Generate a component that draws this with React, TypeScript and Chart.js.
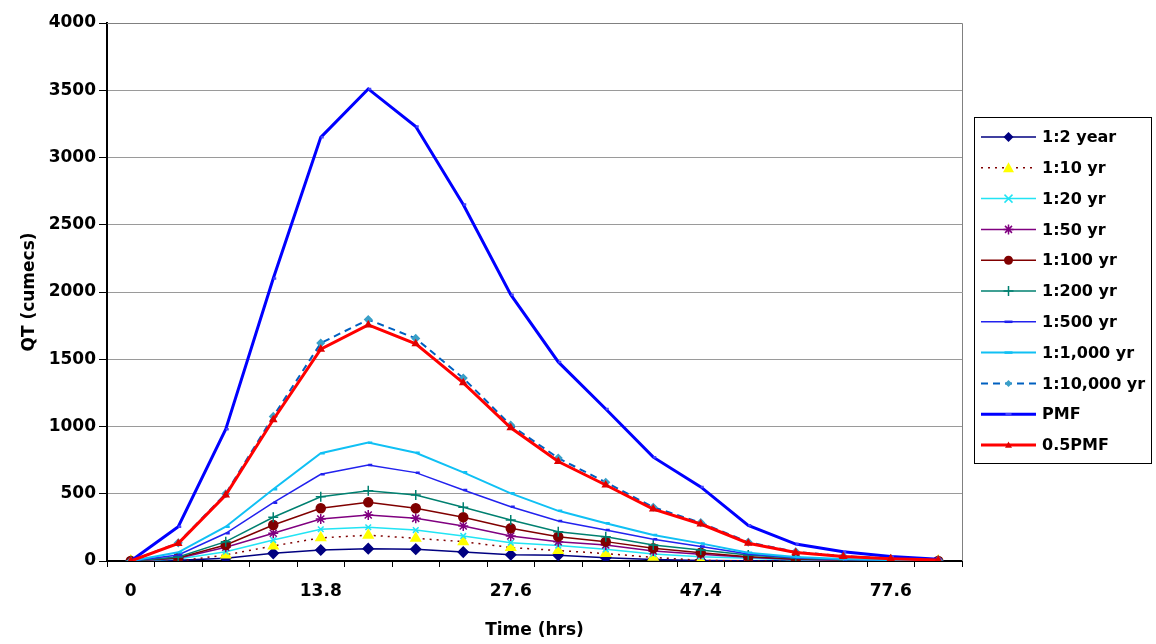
import React, { useEffect, useRef } from "react";
import { Chart, registerables } from "chart.js";

Chart.register(...registerables);

// Category axis (hours); only every 4th category carries a printed label
const categories = ["0", "", "", "", "13.8", "", "", "", "27.6", "", "", "", "47.4", "", "", "", "77.6", ""];

// Y axis
const yMin = 0;
const yMax = 4000;
const yStep = 500;

// Series values (cumecs)
const q2 = [0, 5, 20, 57, 82, 92, 88, 66, 46, 42, 25, 12, 4, 1, 0, 0, 0, 0];
const q10 = [0, 0, 45, 112, 172, 192, 169, 144, 100, 78, 55, 27, 5, 0, 0, 0, 0, 0];
const q20 = [0, 15, 69, 156, 236, 251, 230, 186, 136, 115, 87, 52, 32, 20, 8, 4, 2, 0];
const q50 = [0, 20, 102, 206, 312, 342, 317, 260, 186, 144, 119, 74, 50, 27, 12, 6, 3, 0];
const q100 = [0, 25, 119, 268, 392, 436, 392, 325, 243, 181, 144, 94, 62, 32, 15, 8, 4, 0];
const q200 = [0, 30, 144, 325, 478, 523, 491, 399, 305, 218, 181, 119, 82, 45, 20, 10, 5, 0];
const q500 = [0, 45, 206, 434, 645, 714, 657, 528, 404, 298, 230, 161, 107, 52, 25, 12, 6, 0];
const q1000 = [0, 65, 255, 533, 801, 880, 805, 659, 503, 373, 280, 193, 131, 62, 30, 15, 7, 0];
const q10000 = [0, 135, 500, 1075, 1620, 1795, 1655, 1360, 1010, 765, 585, 400, 285, 140, 68, 36, 18, 8];
const pmf = [0, 255, 980, 2100, 3150, 3510, 3230, 2650, 1980, 1480, 1130, 772, 551, 265, 126, 68, 33, 13];
const halfPmf = [0, 131, 490, 1050, 1575, 1755, 1615, 1325, 990, 740, 565, 386, 275, 132, 63, 34, 17, 7];

const seriesLabels = ["1:2 year", "1:10 yr", "1:20 yr", "1:50 yr", "1:100 yr", "1:200 yr", "1:500 yr", "1:1,000 yr", "1:10,000 yr", "PMF", "0.5PMF"];
const seriesData = [q2, q10, q20, q50, q100, q200, q500, q1000, q10000, pmf, halfPmf];

type Style = { color: string; width: number; dash: number[]; marker: string; mcolor: string; r: number };
const styles: Style[] = [
  { color: "#000080", width: 1.5, dash: [], marker: "rectRot", mcolor: "#000080", r: 5 },
  { color: "#800000", width: 1.5, dash: [2, 5], marker: "triangle", mcolor: "#FFFF00", r: 5.5 },
  { color: "#22E4F4", width: 1.5, dash: [], marker: "crossRot", mcolor: "#22E4F4", r: 4 },
  { color: "#800080", width: 1.5, dash: [], marker: "star", mcolor: "#800080", r: 5 },
  { color: "#800000", width: 1.5, dash: [], marker: "circle", mcolor: "#800000", r: 4.5 },
  { color: "#008070", width: 1.5, dash: [], marker: "cross", mcolor: "#008070", r: 5 },
  { color: "#2222EE", width: 1.5, dash: [], marker: "dash", mcolor: "#2222EE", r: 4 },
  { color: "#10C0F4", width: 2, dash: [], marker: "dash", mcolor: "#10C0F4", r: 4 },
  { color: "#0060C0", width: 2, dash: [7, 5], marker: "rectRot", mcolor: "#3AA0C8", r: 3.5 },
  { color: "#0000FF", width: 3, dash: [], marker: "dash", mcolor: "#4444FF", r: 3 },
  { color: "#FF0000", width: 3, dash: [], marker: "triangle", mcolor: "#E00000", r: 3.5 },
];

const FONT = "'DejaVu Sans', 'Liberation Sans', sans-serif";
const FSIZE = 17;
const LEGEND_FSIZE = 16;

function drawMarker(ctx: CanvasRenderingContext2D, style: string, x: number, y: number, r: number, color: string) {
  ctx.save();
  ctx.setLineDash([]);
  ctx.fillStyle = color;
  ctx.strokeStyle = color;
  ctx.lineWidth = 1.5;
  ctx.beginPath();
  switch (style) {
    case "rectRot":
      ctx.moveTo(x, y - r);
      ctx.lineTo(x + r, y);
      ctx.lineTo(x, y + r);
      ctx.lineTo(x - r, y);
      ctx.closePath();
      ctx.fill();
      break;
    case "triangle":
      ctx.moveTo(x, y - r);
      ctx.lineTo(x + r, y + r * 0.8);
      ctx.lineTo(x - r, y + r * 0.8);
      ctx.closePath();
      ctx.fill();
      break;
    case "circle":
      ctx.arc(x, y, r, 0, Math.PI * 2);
      ctx.fill();
      break;
    case "star":
      ctx.moveTo(x - r, y);
      ctx.lineTo(x + r, y);
      ctx.moveTo(x, y - r);
      ctx.lineTo(x, y + r);
      ctx.moveTo(x - r * 0.7, y - r * 0.7);
      ctx.lineTo(x + r * 0.7, y + r * 0.7);
      ctx.moveTo(x - r * 0.7, y + r * 0.7);
      ctx.lineTo(x + r * 0.7, y - r * 0.7);
      ctx.stroke();
      break;
    case "crossRot":
      ctx.moveTo(x - r, y - r);
      ctx.lineTo(x + r, y + r);
      ctx.moveTo(x - r, y + r);
      ctx.lineTo(x + r, y - r);
      ctx.stroke();
      break;
    case "cross":
      ctx.moveTo(x - r, y);
      ctx.lineTo(x + r, y);
      ctx.moveTo(x, y - r);
      ctx.lineTo(x, y + r);
      ctx.stroke();
      break;
    case "dash":
      ctx.lineWidth = 2.5;
      ctx.moveTo(x - r, y);
      ctx.lineTo(x + r, y);
      ctx.stroke();
      break;
  }
  ctx.restore();
}

const plotBorderPlugin = {
  id: "plotBorder",
  beforeDatasetsDraw(chart: any) {
    const { ctx, chartArea } = chart;
    ctx.save();
    ctx.strokeStyle = "#808080";
    ctx.lineWidth = 1;
    ctx.beginPath();
    ctx.moveTo(chartArea.left, chartArea.top + 0.5);
    ctx.lineTo(chartArea.right + 0.5, chartArea.top + 0.5);
    ctx.lineTo(chartArea.right + 0.5, chartArea.bottom);
    ctx.stroke();
    ctx.restore();
  },
};

const boxLegendPlugin = {
  id: "boxLegend",
  afterDraw(chart: any) {
    const { ctx, chartArea } = chart;
    const left = Math.round(chartArea.right + 12);
    const top = 117;
    const w = 177;
    const h = 346;
    ctx.save();
    ctx.strokeStyle = "#000";
    ctx.lineWidth = 1;
    ctx.setLineDash([]);
    ctx.strokeRect(left + 0.5, top + 0.5, w, h);
    const rowStep = 30.8;
    seriesLabels.forEach((label, i) => {
      const st = styles[i];
      const y = top + 20 + i * rowStep;
      const x0 = left + 7;
      const x1 = left + 62;
      ctx.save();
      ctx.strokeStyle = st.color;
      ctx.lineWidth = st.width;
      ctx.setLineDash(st.dash);
      ctx.beginPath();
      ctx.moveTo(x0, y);
      ctx.lineTo(x1, y);
      ctx.stroke();
      ctx.restore();
      drawMarker(ctx, st.marker, (x0 + x1) / 2, y, st.r, st.mcolor);
      ctx.fillStyle = "#000";
      ctx.font = `bold ${LEGEND_FSIZE}px ${FONT}`;
      ctx.textAlign = "left";
      ctx.textBaseline = "middle";
      ctx.fillText(label, x1 + 6, y + 1);
    });
    ctx.restore();
  },
};

export default function App() {
  const ref = useRef<HTMLCanvasElement | null>(null);

  useEffect(() => {
    if (!ref.current) return;
    const datasets = seriesData.map((data, i) => {
      const st = styles[i];
      return {
        label: seriesLabels[i],
        data,
        borderColor: st.color,
        backgroundColor: st.mcolor,
        borderWidth: st.width,
        borderDash: st.dash,
        pointStyle: st.marker as any,
        pointRadius: st.r,
        pointBackgroundColor: st.mcolor,
        pointBorderColor: st.mcolor,
        pointBorderWidth: st.marker === "dash" ? 2.5 : 1.5,
        tension: 0,
        fill: false,
        order: -i,
      };
    });

    const chart = new Chart(ref.current, {
      type: "line",
      data: { labels: categories, datasets },
      options: {
        animation: false,
        responsive: false,
        maintainAspectRatio: false,
        layout: { padding: { top: 23, right: 194, left: 0, bottom: 0 } },
        plugins: { legend: { display: false }, tooltip: { enabled: false } },
        scales: {
          x: {
            type: "category",
            offset: true,
            afterFit: (scale: any) => {
              scale.height = 83;
            },
            grid: {
              offset: true,
              drawOnChartArea: false,
              drawTicks: true,
              tickLength: 6,
              tickColor: "#000",
              color: "#000",
            },
            border: { display: true, color: "#000", width: 2 },
            ticks: {
              autoSkip: false,
              maxRotation: 0,
              minRotation: 0,
              padding: 14,
              color: "#000",
              font: { family: FONT, size: FSIZE, weight: "bold" },
            },
            title: {
              display: true,
              text: "Time (hrs)",
              color: "#000",
              font: { family: FONT, size: FSIZE, weight: "bold" },
              padding: { top: 0, bottom: 3 },
            },
          },
          y: {
            min: yMin,
            max: yMax,
            afterFit: (scale: any) => {
              scale.width = 107;
            },
            grid: {
              color: "#9a9a9a",
              lineWidth: 1,
              tickColor: "#000",
              tickLength: 8,
            },
            border: { display: true, color: "#000", width: 2 },
            ticks: {
              stepSize: yStep,
              padding: 3,
              color: "#000",
              font: { family: FONT, size: FSIZE, weight: "bold" },
              callback: (v: any) => String(v),
            },
            title: {
              display: true,
              text: "QT (cumecs)",
              color: "#000",
              font: { family: FONT, size: FSIZE, weight: "bold" },
              padding: { top: 19, bottom: 0 },
            },
          },
        },
      },
      plugins: [plotBorderPlugin, boxLegendPlugin],
    });
    return () => chart.destroy();
  }, []);

  return (
    <div style={{ position: "fixed", left: 0, top: 0, width: 1156, height: 644, background: "#fff" }}>
      <canvas ref={ref} width={1156} height={644} style={{ display: "block" }} />
    </div>
  );
}
